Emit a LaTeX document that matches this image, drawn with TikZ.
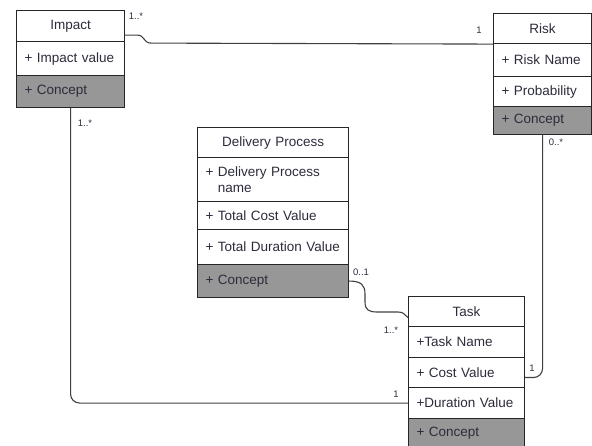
\documentclass[tikz,border=0pt]{standalone}
\usepackage{fontspec}
\setmainfont{Liberation Sans}
\usetikzlibrary{calc}
\definecolor{txt}{HTML}{2C2C3C}
\definecolor{concept}{HTML}{979797}
\definecolor{edge}{HTML}{404040}
\tikzset{
  cell/.style={draw=black!85, line width=1.1pt, fill=white, anchor=north west,
    inner xsep=8pt, inner ysep=0pt, text=txt, font=\fontsize{13.5}{16}\selectfont, align=left},
  head/.style={cell, align=center},
  conc/.style={cell, fill=concept},
  lbl/.style={text=txt, font=\fontsize{9.5}{10}\selectfont, inner sep=0pt},
  conn/.style={draw=edge, line width=1.1pt},
}
\begin{document}
\begin{tikzpicture}[x=1pt,y=-1pt]
\useasboundingbox (0,0) rectangle (592,446);
% Impact
\node[head, text width=92pt, minimum height=31pt] (imp-h) at (16,10) {Impact};
\node[cell, text width=92pt, minimum height=34pt] (imp-v) at (16,41) {+ Impact value};
\node[conc, text width=92pt, minimum height=32pt] (imp-c) at (16,75) {+ Concept};
% Risk
\node[head, text width=82pt, minimum height=30pt] (risk-h) at (493,13) {Risk};
\node[cell, text width=82pt, minimum height=33pt] (risk-n) at (493,43) {+ Risk Name};
\node[cell, text width=82pt, minimum height=30pt] (risk-p) at (493,76) {+ Probability};
\node[conc, text width=82pt, minimum height=28pt] (risk-c) at (493,106) {+ Concept};
% Delivery Process
\node[head, text width=135pt, minimum height=30pt] (dp-h) at (197,127) {Delivery Process};
\node[cell, text width=135pt, minimum height=44pt] (dp-n) at (197,157) {+ Delivery Process\\\phantom{+ }name};
\node[cell, text width=135pt, minimum height=28pt] (dp-tc) at (197,201) {+ Total Cost Value};
\node[cell, text width=135pt, minimum height=35pt] (dp-td) at (197,229) {+ Total Duration Value};
\node[conc, text width=135pt, minimum height=33pt] (dp-c) at (197,264) {+ Concept};
% Task
\node[head, text width=100pt, minimum height=30pt] (task-h) at (408,296) {Task};
\node[cell, text width=100pt, minimum height=31pt] (task-n) at (408,326) {+Task Name};
\node[cell, text width=100pt, minimum height=30pt] (task-cv) at (408,357) {+ Cost Value};
\node[cell, text width=100pt, minimum height=31pt] (task-d) at (408,387) {+Duration Value};
\node[conc, text width=100pt, minimum height=30pt] (task-c) at (408,418) {+ Concept};
% connectors
\draw[conn] ($(imp-h.south east)+(0,-7)$) -- ++(12,0)
  .. controls +(8,0) and +(-8,0) .. ++(14,8) -- (risk-h.south west);
\draw[conn, rounded corners=9pt] (imp-c.south) |- (task-d.west);
\draw[conn, rounded corners=9pt] (risk-c.south) |- ($(task-cv.east)+(0,5)$);
\coordinate (c1) at (365,294);
\coordinate (c2) at (365,302);
\coordinate (c3) at (377,312);
\coordinate (c4) at (398,312);
\draw[conn] (dp-c.east) .. controls +(12,0) and +(0,-9) .. (c1) -- (c2)
  .. controls +(0,8) and +(-8,0) .. (c3) -- (c4)
  .. controls +(6,0) and +(-4,-3) .. ($(task-h.west)+(0,6)$);
% labels
\node[lbl] (l1) at (136,16) {1..*};
\node[lbl] (l2) at (479,30) {1};
\node[lbl] (l3) at (85,123) {1..*};
\node[lbl] (l4) at (556,142) {0..*};
\node[lbl] (l5) at (361,272) {0..1};
\node[lbl] (l6) at (391,330) {1..*};
\node[lbl] (l7) at (532,368) {1};
\node[lbl] (l8) at (396,394) {1};
\end{tikzpicture}
\end{document}
